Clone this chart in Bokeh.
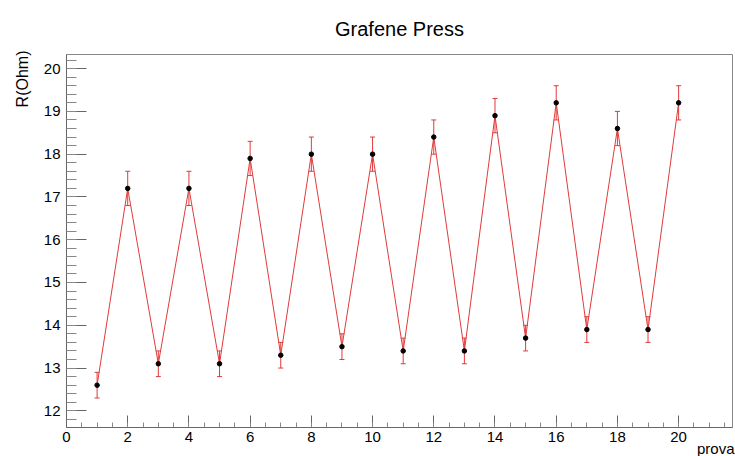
from bokeh.plotting import figure
from bokeh.models import (ColumnDataSource, Range1d, FixedTicker, Whisker, TeeHead, Title)
from bokeh.embed import file_html
from bokeh.resources import INLINE

# Data
prova = [1, 2, 3, 4, 5, 6, 7, 8, 9, 10, 11, 12, 13, 14, 15, 16, 17, 18, 19, 20]
r_ohm = [12.6, 17.2, 13.1, 17.2, 13.1, 17.9, 13.3, 18.0, 13.5, 18.0,
         13.4, 18.4, 13.4, 18.9, 13.7, 19.2, 13.9, 18.6, 13.9, 19.2]
r_err = [0.3, 0.4, 0.3, 0.4, 0.3, 0.4, 0.3, 0.4, 0.3, 0.4,
         0.3, 0.4, 0.3, 0.4, 0.3, 0.4, 0.3, 0.4, 0.3, 0.4]
x_ticks = [0, 2, 4, 6, 8, 10, 12, 14, 16, 18, 20]
y_ticks = [12, 13, 14, 15, 16, 17, 18, 19, 20]

X_MIN, X_MAX = 0.0, 21.76
Y_MIN, Y_MAX = 11.61, 20.33

FONT = "Liberation Sans"
RED = "#e03a3a"

src = ColumnDataSource(dict(
    x=prova, y=r_ohm,
    lo=[v - e for v, e in zip(r_ohm, r_err)],
    hi=[v + e for v, e in zip(r_ohm, r_err)],
))

p = figure(width=735, height=456, output_backend="svg", toolbar_location=None,
           x_range=Range1d(X_MIN, X_MAX), y_range=Range1d(Y_MIN, Y_MAX),
           min_border_left=66, min_border_right=3, min_border_top=54, min_border_bottom=29)

p.title.text = "Grafene Press"
p.title.align = "center"
p.title.text_font = FONT
p.title.text_font_size = "20px"
p.title.text_font_style = "normal"
p.title.text_color = "#000000"
p.title.standoff = 29

p.xgrid.visible = False
p.ygrid.visible = False
p.outline_line_color = "#888888"
p.background_fill_color = "white"
p.border_fill_color = "white"

# axes
p.xaxis.ticker = FixedTicker(ticks=x_ticks,
                             minor_ticks=[i * 0.5 for i in range(0, 44)])
p.yaxis.ticker = FixedTicker(ticks=y_ticks,
                             minor_ticks=[round(11.6 + i * 0.2, 1) for i in range(0, 45)])
for ax in (p.xaxis[0], p.yaxis[0]):
    ax.axis_line_color = "#666666"
    ax.major_tick_line_color = "#666666"
    ax.minor_tick_line_color = "#888888"
    ax.major_tick_out = 0
    ax.minor_tick_out = 0
    ax.major_label_text_font = FONT
    ax.major_label_text_font_size = "15px"
    ax.major_label_text_color = "#000000"
p.xaxis.major_label_standoff = 4
p.yaxis.major_label_standoff = 6
p.xaxis.major_tick_in = 12
p.xaxis.minor_tick_in = 5
p.yaxis.major_tick_in = 20
p.yaxis.minor_tick_in = 10

# axis titles, ROOT style at the end of each axis
p.add_layout(Title(text="prova", align="right", offset=-2, standoff=-13,
                   text_font=FONT, text_font_size="15px", text_font_style="normal",
                   text_color="#000000"), "below")
p.add_layout(Title(text="R(Ohm)", align="right", offset=-4, standoff=20,
                   text_font=FONT, text_font_size="16px", text_font_style="normal",
                   text_color="#000000"), "left")

# line
p.line("x", "y", source=src, line_color=RED, line_width=1)
# error bars
p.add_layout(Whisker(source=src, base="x", lower="lo", upper="hi",
                     line_color=RED, line_width=1,
                     upper_head=TeeHead(size=5, line_color=RED, line_width=1),
                     lower_head=TeeHead(size=5, line_color=RED, line_width=1)))
# markers
p.scatter("x", "y", source=src, size=4.5, fill_color="black", line_color="black")

open("out.html", "w").write(file_html(p, INLINE))
